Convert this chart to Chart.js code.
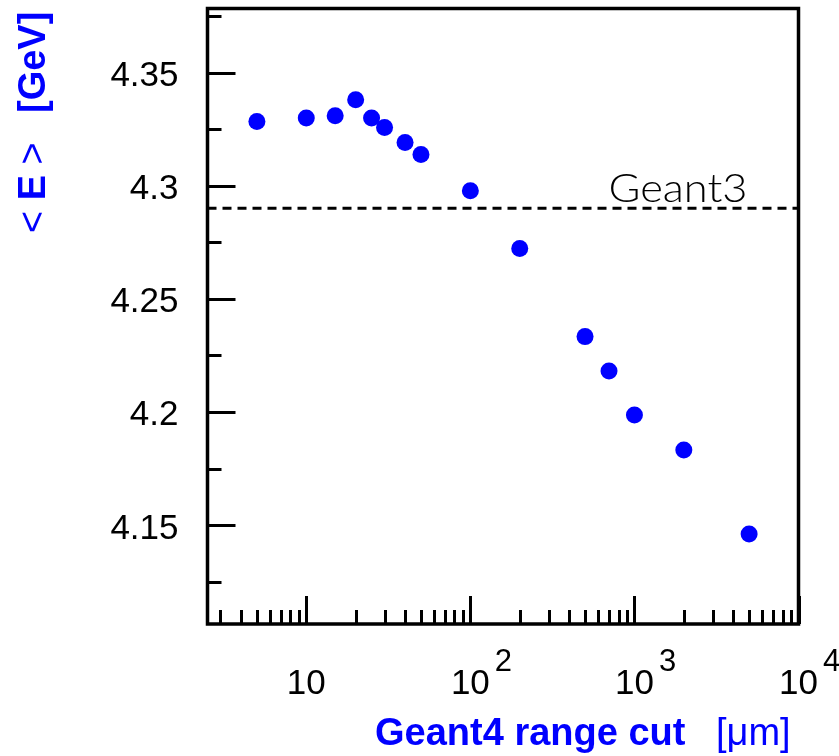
<!DOCTYPE html>
<html>
<head>
<meta charset="utf-8">
<script src="https://cdn.jsdelivr.net/npm/chart.js@4/dist/chart.umd.min.js"></script>
<style>
html,body{margin:0;padding:0;background:#fff;}
canvas{display:block;}
</style>
</head>
<body>
<canvas id="c" width="839" height="756" style="width:839px;height:756px"></canvas>
<script>
// ---- data ----
const rangeCut = [5, 10, 15, 20, 25, 30, 40, 50, 100, 200, 500, 700, 1000, 2000, 5000];
const meanE = [4.3284, 4.3299, 4.3309, 4.3380, 4.3299, 4.3257, 4.3191, 4.3138, 4.2978, 4.2722, 4.2333, 4.2181, 4.1987, 4.1832, 4.1461];
const geant3E = 4.29;
const geant3Label = "Geant3";

const xMin = 2.5, xMax = 10000;
const yMin = 4.1063, yMax = 4.3783;

const xMajorTicks = [10, 100, 1000, 10000];
const xTickBase = ["10", "10", "10", "10"];
const xTickExp = ["", "2", "3", "4"];
const xMinorTicks = [3, 4, 5, 6, 7, 8, 9, 20, 30, 40, 50, 60, 70, 80, 90, 200, 300, 400, 500, 600, 700, 800, 900, 2000, 3000, 4000, 5000, 6000, 7000, 8000, 9000];
const yMajorTicks = [4.15, 4.2, 4.25, 4.3, 4.35];
const yTickLabels = ["4.15", "4.2", "4.25", "4.3", "4.35"];
const yMinorTicks = [4.125, 4.175, 4.225, 4.275, 4.325, 4.375];

const xTitleBold = "Geant4 range cut";
const xTitleUnit = "[\u03bcm]";
const yTitleParts = [["<", false], ["E", true], [">", false]];
const yTitleUnit = "[GeV]";

const BLUE = "#0000ff";
const SANS = '"Liberation Sans", Arial, Helvetica, sans-serif';

const framePlugin = {
  id: 'frame',
  afterDatasetsDraw(chart) {
    const ctx = chart.ctx;
    const ca = chart.chartArea;
    const xs = chart.scales.x, ys = chart.scales.y;
    ctx.save();
    ctx.strokeStyle = '#000';
    ctx.lineCap = 'butt';
    // ticks (inside)
    ctx.lineWidth = 3;
    ctx.beginPath();
    yMajorTicks.forEach(v => { const p = Math.round(ys.getPixelForValue(v)) + 0.5; ctx.moveTo(ca.left, p); ctx.lineTo(ca.left + 28, p); });
    yMinorTicks.forEach(v => { const p = Math.round(ys.getPixelForValue(v)) + 0.5; ctx.moveTo(ca.left, p); ctx.lineTo(ca.left + 14, p); });
    xMajorTicks.forEach(v => { const p = Math.round(xs.getPixelForValue(v)) + 0.5; ctx.moveTo(p, ca.bottom); ctx.lineTo(p, ca.bottom - 28); });
    xMinorTicks.forEach(v => { const p = Math.round(xs.getPixelForValue(v)) + 0.5; ctx.moveTo(p, ca.bottom); ctx.lineTo(p, ca.bottom - 14); });
    ctx.stroke();
    // frame
    ctx.lineWidth = 3.5;
    ctx.strokeRect(ca.left, ca.top, ca.right - ca.left, ca.bottom - ca.top);

    // y tick labels
    ctx.fillStyle = '#000';
    ctx.font = '35px ' + SANS;
    ctx.textAlign = 'right';
    ctx.textBaseline = 'alphabetic';
    yMajorTicks.forEach((v, i) => {
      ctx.fillText(yTickLabels[i], 178.5, ys.getPixelForValue(v) + 13.5);
    });
    // x tick labels
    xMajorTicks.forEach((v, i) => {
      const p = xs.getPixelForValue(v);
      ctx.font = '35px ' + SANS;
      ctx.textAlign = 'center';
      ctx.fillText(xTickBase[i], p, 694);
      if (xTickExp[i]) {
        const w = ctx.measureText(xTickBase[i]).width;
        ctx.font = '31px ' + SANS;
        ctx.textAlign = 'left';
        ctx.fillText(xTickExp[i], p + w / 2 + 5, 671);
      }
    });

    // Geant3 label (thin font, stretched to the reference width)
    ctx.save();
    ctx.font = '300 39px Lato, "Open Sans", sans-serif';
    ctx.textAlign = 'left';
    const gw = ctx.measureText(geant3Label).width;
    const sx = 139 / gw;
    ctx.translate(ca.right - 51 - 139, ys.getPixelForValue(geant3E) - 6);
    ctx.scale(sx, 1);
    ctx.fillText(geant3Label, 0, 0);
    ctx.restore();

    // x title
    ctx.fillStyle = BLUE;
    ctx.textAlign = 'left';
    ctx.font = 'bold 38px ' + SANS;
    ctx.fillText(xTitleBold, 375, 745);
    ctx.font = '38px ' + SANS;
    ctx.fillText(xTitleUnit, 716, 745);

    // y title (rotated)
    ctx.save();
    ctx.translate(45, 233);
    ctx.rotate(-Math.PI / 2);
    let x = 0;
    const space = 10.5;
    yTitleParts.forEach(([t, b]) => {
      ctx.font = (b ? 'bold ' : '') + '38px ' + SANS;
      ctx.fillText(t, x, 0);
      x += ctx.measureText(t).width + space;
    });
    ctx.font = 'bold 38px ' + SANS;
    ctx.fillText(yTitleUnit, 120, 0);
    ctx.restore();

    ctx.restore();
  }
};

new Chart(document.getElementById('c'), {
  type: 'scatter',
  data: {
    datasets: [
      {
        type: 'line',
        data: [{ x: xMin, y: geant3E }, { x: xMax, y: geant3E }],
        borderColor: '#000',
        borderWidth: 3,
        borderDash: [9, 6],
        pointRadius: 0,
        fill: false,
        order: 2
      },
      {
        data: rangeCut.map((x, i) => ({ x: x, y: meanE[i] })),
        backgroundColor: BLUE,
        borderWidth: 0,
        pointRadius: 8.5,
        pointHoverRadius: 8.5,
        order: 1
      }
    ]
  },
  options: {
    responsive: false,
    animation: false,
    devicePixelRatio: 1,
    events: [],
    layout: { padding: { left: 207.5, top: 7.5, right: 40.5, bottom: 132 } },
    plugins: { legend: { display: false }, tooltip: { enabled: false } },
    scales: {
      x: { type: 'logarithmic', min: xMin, max: xMax, display: false },
      y: { type: 'linear', min: yMin, max: yMax, display: false }
    }
  },
  plugins: [framePlugin]
});
</script>
</body>
</html>
